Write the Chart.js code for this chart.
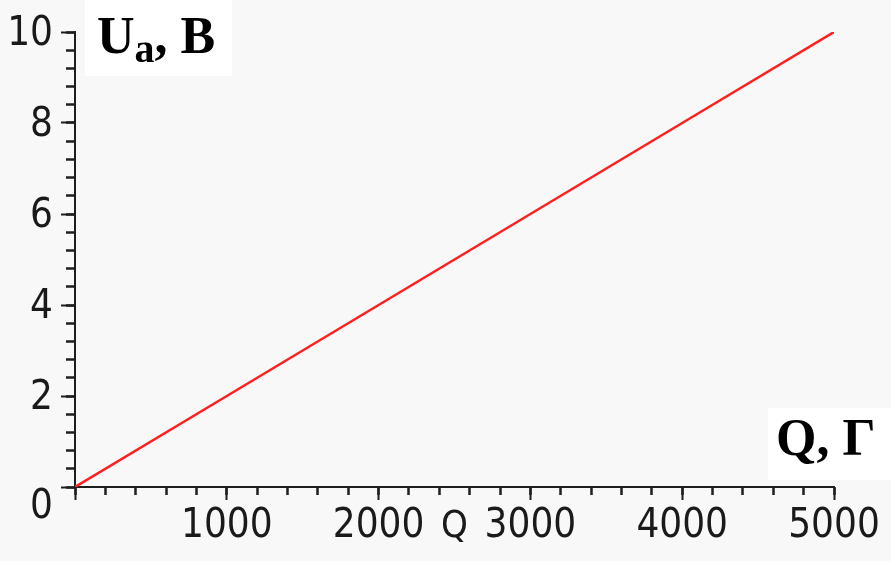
<!DOCTYPE html>
<html>
<head>
<meta charset="utf-8">
<script src="https://cdn.jsdelivr.net/npm/chart.js@4"></script>
<style>
  html, body { margin: 0; padding: 0; background: #f8f8f8; }
  #wrap { width: 891px; height: 561px; }
</style>
</head>
<body>
<div id="wrap"><canvas id="myChart"></canvas></div>
<script>
document.addEventListener('DOMContentLoaded', function(){
var qValues = [0, 1000, 2000, 3000, 4000, 5000];
var uValues = [0, 2, 4, 6, 8, 10];
var xTicks = [0, 1000, 2000, 3000, 4000, 5000];
var xTickLabels = ['', '1000', '2000', '3000', '4000', '5000'];
var yTicks = [0, 2, 4, 6, 8, 10];
var yTickLabels = ['', '2', '4', '6', '8', '10'];
var zeroLabel = '0';

var tickFont = {family: "'DejaVu Sans Condensed', 'DejaVu Sans', sans-serif", size: 40};
var axisColor = '#1e1e1e';

var labelsPlugin = {
    id: 'labels',
    beforeDraw: function(chart){
        var ctx = chart.ctx;
        ctx.save();
        ctx.fillStyle = '#f8f8f8';
        ctx.fillRect(0, 0, chart.width, chart.height);
        ctx.fillStyle = '#ffffff';
        ctx.fillRect(85, 0, 147, 76);
        ctx.fillRect(768, 408, 123, 72);
        ctx.restore();
    },
    afterDraw: function(chart){
        var ctx = chart.ctx;
        var ys = chart.scales.y;
        ctx.save();
        // zero label sits below the corner
        ctx.fillStyle = '#1a1a1a';
        ctx.font = tickFont.size + 'px ' + tickFont.family;
        ctx.textAlign = 'right';
        ctx.textBaseline = 'middle';
        ctx.fillText(zeroLabel, ys.right - 14 - 8, ys.getPixelForValue(0) + 21);

        ctx.fillStyle = '#000';
        ctx.textAlign = 'left';
        ctx.textBaseline = 'alphabetic';
        var big = "bold 52px 'Liberation Serif', serif";
        var small = "bold 40px 'Liberation Serif', serif";
        var x = 97;
        ctx.font = big;
        ctx.fillText('U', x, 53);
        x += ctx.measureText('U').width;
        ctx.font = small;
        ctx.fillText('a', x, 62);
        x += ctx.measureText('a').width;
        ctx.font = big;
        ctx.fillText(', B', x, 53);

        ctx.fillText('Q, \u0393', 776, 455);
        ctx.restore();
    }
};

new Chart("myChart", {
    type: "line",
    data: {
        labels: qValues,
        datasets: [{
            data: qValues.map(function(q, i){ return {x: q, y: uValues[i]}; }),
            borderColor: "#ff1f1f",
            borderWidth: 2.5,
            pointRadius: 0,
            fill: false,
            tension: 0,
            xAxisID: 'x',
            yAxisID: 'y'
        }]
    },
    options: {
        responsive: true,
        maintainAspectRatio: false,
        animation: false,
        devicePixelRatio: 1,
        layout: {padding: {top: 31, right: 57, left: 0, bottom: 0}},
        plugins: {
            legend: {display: false},
            tooltip: {enabled: false}
        },
        scales: {
            x: {
                type: 'linear',
                position: 'bottom',
                min: 0, max: 5000,
                afterBuildTicks: function(s){ s.ticks = xTicks.map(function(v){ return {value: v}; }); },
                afterFit: function(s){ s.height = 74; },
                grid: {drawOnChartArea: false, tickLength: 13, tickColor: axisColor, tickWidth: 2},
                border: {color: axisColor, width: 2},
                ticks: {
                    font: tickFont, color: '#1a1a1a', padding: 3, maxRotation: 0, autoSkip: false,
                    callback: function(v, i){ return xTickLabels[i]; }
                },
                title: {
                    display: true, text: 'Q', color: '#1a1a1a',
                    font: {family: "'DejaVu Sans Condensed', 'DejaVu Sans', sans-serif", size: 38},
                    padding: {top: 0, bottom: 11}
                }
            },
            xm: {
                type: 'linear',
                axis: 'x',
                position: {y: 0},
                min: 0, max: 5000,
                ticks: {stepSize: 200, display: false},
                grid: {drawOnChartArea: false, tickLength: 8, tickColor: axisColor, tickWidth: 2.5},
                border: {display: false}
            },
            y: {
                type: 'linear',
                position: 'left',
                min: 0, max: 10,
                afterBuildTicks: function(s){ s.ticks = yTicks.map(function(v){ return {value: v}; }); },
                afterFit: function(s){ s.width = 75; },
                grid: {drawOnChartArea: false, tickLength: 14, tickColor: axisColor, tickWidth: 2},
                border: {color: axisColor, width: 2},
                ticks: {
                    font: tickFont, color: '#1a1a1a', padding: 8, labelOffset: 3, autoSkip: false,
                    callback: function(v, i){ return yTickLabels[i]; }
                }
            },
            ym: {
                type: 'linear',
                axis: 'y',
                position: {x: 0},
                min: 0, max: 10,
                ticks: {stepSize: 0.4, display: false},
                grid: {drawOnChartArea: false, tickLength: 9, tickColor: axisColor, tickWidth: 2.5},
                border: {display: false}
            }
        }
    },
    plugins: [labelsPlugin]
});
})
</script>
</body>
</html>
